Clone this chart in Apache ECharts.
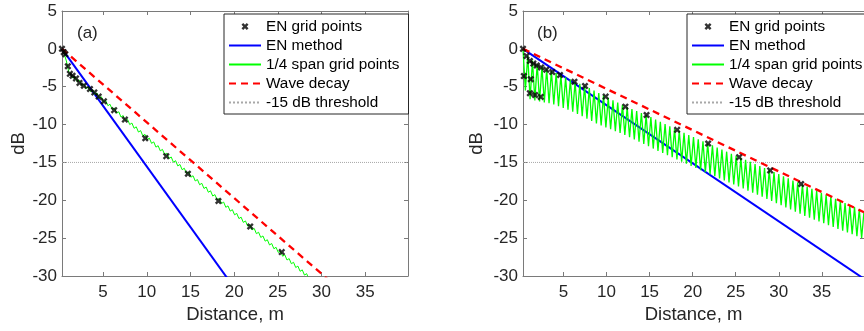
<!DOCTYPE html>
<html>
<head>
<meta charset="utf-8">
<script src="https://cdn.jsdelivr.net/npm/echarts@6/dist/echarts.min.js"></script>
<style>
html, body {margin: 0; padding: 0; background: #fff;}
#main {width: 864px; height: 331px;}
</style>
</head>
<body>
<div id="main"></div>
<script>
const xTicks = [5, 10, 15, 20, 25, 30, 35];
const legendNames = ['EN grid points', 'EN method', '1/4 span grid points', 'Wave decay', '-15 dB threshold'];
const panelTags = ['(a)', '(b)'];
const thresholdDb = -15;

// panel (a)
const enGridAX = [0.3, 0.5, 0.68, 0.97, 1.2, 1.51, 1.9, 2.3, 2.8, 3.5, 4.0, 4.5, 5.1, 6.27, 7.5, 9.83, 12.23, 14.71, 18.2, 21.84, 25.45];
const enGridAY = [0, -0.45, -0.7, -2.3, -3.3, -3.55, -3.9, -4.5, -4.87, -5.3, -5.75, -6.3, -6.93, -8.1, -9.34, -11.8, -14.17, -16.5, -20.1, -23.46, -26.84];
const enMethodAX = [0.3, 39.9];
const enMethodAY = [0, -63.4];
const waveDecayAX = [0.3, 39.9];
const waveDecayAY = [0, -39.6];
const spanAX = [0.3, 0.5, 0.64, 0.8, 0.95, 1.1, 1.2,
  1.3, 1.55, 1.8, 2.05, 2.3, 2.55, 2.8, 3.05, 3.3, 3.55, 3.8,
  4.05, 4.3, 4.55, 4.8, 5.05, 5.3, 5.55, 5.8, 6.05, 6.3, 6.55, 6.8, 7.05, 7.3, 7.55, 7.8, 8.05, 8.3, 8.55, 8.8,
  9.05, 9.3, 9.55, 9.8, 10.05, 10.3, 10.55, 10.8, 11.05, 11.3, 11.55, 11.8, 12.05, 12.3, 12.55, 12.8,
  13.05, 13.3, 13.55, 13.8, 14.05, 14.3, 14.55, 14.8, 15.05, 15.3, 15.55, 15.8, 16.05, 16.3, 16.55, 16.8,
  17.05, 17.3, 17.55, 17.8, 18.05, 18.3, 18.55, 18.8, 19.05, 19.3, 19.55, 19.8, 20.05, 20.3, 20.55, 20.8,
  21.05, 21.3, 21.55, 21.8, 22.05, 22.3, 22.55, 22.8, 23.05, 23.3, 23.55, 23.8, 24.05, 24.3, 24.55, 24.8,
  25.05, 25.3, 25.55, 25.8, 26.05, 26.3, 26.55, 26.8, 27.05, 27.3, 27.55, 27.8, 28.05, 28.3, 28.55, 28.8];
const spanAY = [0, -0.45, -0.66, -1.6, -2.4, -3.1, -3.3,
  -3.18, -3.86, -3.67, -4.35, -4.16, -4.84, -4.65, -5.27, -5.02, -5.64, -5.38,
  -6.02, -5.83, -6.52, -6.33, -7.01, -6.82, -7.51, -7.32, -8.01, -7.82, -8.50, -8.31, -9.00, -8.81, -9.50, -9.31, -10.00, -9.80, -10.49, -10.30,
  -10.99, -10.80, -11.49, -11.30, -11.98, -11.79, -12.48, -12.29, -12.98, -12.79, -13.47, -13.28, -13.97, -13.78, -14.47, -14.28,
  -14.97, -14.77, -15.46, -15.27, -15.96, -15.77, -16.46, -16.27, -16.95, -16.76, -17.45, -17.26, -17.95, -17.76, -18.44, -18.25,
  -18.94, -18.75, -19.44, -19.25, -19.94, -19.74, -20.43, -20.24, -20.93, -20.74, -21.43, -21.24, -21.92, -21.73, -22.42, -22.23,
  -22.92, -22.73, -23.41, -23.22, -23.91, -23.72, -24.41, -24.22, -24.91, -24.71, -25.40, -25.21, -25.90, -25.71, -26.40, -26.21,
  -26.89, -26.70, -27.39, -27.20, -27.89, -27.70, -28.38, -28.19, -28.88, -28.69, -29.38, -29.19, -29.88, -29.69, -30.38, -30.18];

// panel (b)
const enGridBX = [0.3, 0.7, 1.1, 1.5, 1.9, 2.4, 3.0, 3.7, 4.6, 6.28, 7.5, 9.9, 12.19, 14.65, 18.2, 21.8, 25.4, 29.0, 32.6,
  0.4, 1.2, 1.1, 1.7, 2.36];
const enGridBY = [0, -0.95, -1.6, -1.95, -2.2, -2.45, -2.75, -3.05, -3.45, -4.34, -4.9, -6.3, -7.63, -8.73, -10.7, -12.5, -14.3, -16.05, -17.85,
  -3.6, -4.0, -5.85, -6.1, -6.35];
const enMethodBX = [0.3, 39.9];
const enMethodBY = [0, -30.37];
const waveDecayBX = [0.3, 39.9];
const waveDecayBY = [0, -21.58];
const spanBPeakX = [0.3, 0.85, 1.4, 1.95, 2.5, 3.05, 3.6, 4.15, 4.7, 5.25, 5.8, 6.35, 6.9, 7.45, 8.0, 8.55, 9.1, 9.65,
  10.2, 10.75, 11.3, 11.85, 12.4, 12.95, 13.5, 14.05, 14.6, 15.15, 15.7, 16.25, 16.8, 17.35, 17.9, 18.45, 19.0, 19.55,
  20.1, 20.65, 21.2, 21.75, 22.3, 22.85, 23.4, 23.95, 24.5, 25.05, 25.6, 26.15, 26.7, 27.25, 27.8, 28.35, 28.9, 29.45,
  30.0, 30.55, 31.1, 31.65, 32.2, 32.75, 33.3, 33.85, 34.4, 34.95, 35.5, 36.05, 36.6, 37.15, 37.7, 38.25, 38.8, 39.35, 39.9];
const spanBPeakY = [0, -0.89, -1.55, -2.01, -2.35, -2.67, -2.93, -3.19, -3.46, -3.77, -4.07, -4.37, -4.63, -4.88, -5.19, -5.51, -5.83, -6.15,
  -6.47, -6.78, -7.09, -7.40, -7.69, -7.95, -8.21, -8.47, -8.73, -9.02, -9.33, -9.63, -9.93, -10.23, -10.54, -10.83, -11.10, -11.38,
  -11.65, -11.93, -12.20, -12.48, -12.75, -13.03, -13.30, -13.58, -13.85, -14.13, -14.40, -14.66, -14.93, -15.20, -15.47, -15.73, -16.00, -16.28,
  -16.55, -16.83, -17.10, -17.38, -17.65, -17.92, -18.20, -18.47, -18.74, -19.01, -19.28, -19.55, -19.82, -20.09, -20.37, -20.64, -20.91, -21.18, -21.45];
const spanBTroughX = [0.575, 1.125, 1.675, 2.225, 2.775, 3.325, 3.875, 4.425, 4.975, 5.525, 6.075, 6.625, 7.175, 7.725, 8.275, 8.825, 9.375, 9.925,
  10.475, 11.025, 11.575, 12.125, 12.675, 13.225, 13.775, 14.325, 14.875, 15.425, 15.975, 16.525, 17.075, 17.625, 18.175, 18.725, 19.275, 19.825,
  20.375, 20.925, 21.475, 22.025, 22.575, 23.125, 23.675, 24.225, 24.775, 25.325, 25.875, 26.425, 26.975, 27.525, 28.075, 28.625, 29.175, 29.725,
  30.275, 30.825, 31.375, 31.925, 32.475, 33.025, 33.575, 34.125, 34.675, 35.225, 35.775, 36.325, 36.875, 37.425, 37.975, 38.525, 39.075, 39.625];
const spanBTroughY = [-5.5, -6.64, -6.8, -6.95, -7.07, -7.19, -7.33, -7.57, -7.81, -8.05, -8.29, -8.6, -8.91, -9.22, -9.53, -9.84, -10.12, -10.37,
  -10.62, -10.87, -11.12, -11.37, -11.66, -11.96, -12.26, -12.56, -12.86, -13.17, -13.47, -13.76, -14.04, -14.32, -14.6, -14.89, -15.16, -15.45,
  -15.73, -16.01, -16.29, -16.56, -16.83, -17.1, -17.37, -17.64, -17.91, -18.18, -18.45, -18.72, -18.99, -19.26, -19.54, -19.82, -20.1, -20.38,
  -20.66, -20.94, -21.22, -21.5, -21.78, -22.06, -22.31, -22.55, -22.79, -23.04, -23.28, -23.52, -23.77, -24.01, -24.25, -24.49, -24.74, -24.98];

const pairs = (xs, ys) => xs.map((x, i) => [x, ys[i]]).filter(p => p[1] !== undefined);
const zigzag = (px, py, tx, ty) => {
  const out = [];
  px.forEach((x, i) => {
    out.push([x, py[i]]);
    if (i < tx.length) out.push([tx[i], ty[i]]);
  });
  return out;
};

const font = "'Liberation Sans', Arial, Helvetica, sans-serif";
const textColor = '#262626';
const axisColor = '#7a7a7a';
const xMin = 0.3, xMax = 39.9;
const crossPath = 'path://M0,2.4L2.4,0L5,2.6L7.6,0L10,2.4L7.4,5L10,7.6L7.6,10L5,7.4L2.4,10L0,7.6L2.6,5Z';

const panels = [
  {left: 62, legendLeft: 224, tagLeft: 77, nameGap: 33,
    grid: pairs(enGridAX, enGridAY), en: pairs(enMethodAX, enMethodAY),
    wave: pairs(waveDecayAX, waveDecayAY), span: pairs(spanAX, spanAY), spanWidth: 1},
  {left: 523, legendLeft: 687, tagLeft: 537, nameGap: 37,
    grid: pairs(enGridBX, enGridBY), en: pairs(enMethodBX, enMethodBY),
    wave: pairs(waveDecayBX, waveDecayBY),
    span: zigzag(spanBPeakX, spanBPeakY, spanBTroughX, spanBTroughY), spanWidth: 1.3},
];

// line entries in the legend show only their line sample, no dot
const legendData = legendNames.map((n, i) => i === 0 ? {name: n} : {name: n, itemStyle: {opacity: 0}});

const grids = [], xAxes = [], yAxes = [], series = [], legends = [], graphics = [];

panels.forEach((p, k) => {
  grids.push({left: p.left, top: 11, width: 346, height: 265});
  const tick = {show: true, inside: true, length: 4, customValues: xTicks, lineStyle: {color: axisColor}};
  xAxes.push({
    type: 'value', gridIndex: k, min: xMin, max: xMax, position: 'bottom',
    axisLine: {show: true, onZero: false, lineStyle: {color: axisColor}},
    axisTick: tick,
    axisLabel: {customValues: xTicks, color: textColor, fontSize: 17, fontFamily: font, margin: 8},
    splitLine: {show: false},
    name: 'Distance, m', nameLocation: 'middle', nameGap: 29,
    nameTextStyle: {color: textColor, fontSize: 18.5, fontFamily: font}
  });
  xAxes.push({
    type: 'value', gridIndex: k, min: xMin, max: xMax, position: 'top',
    axisLine: {show: true, onZero: false, lineStyle: {color: axisColor}},
    axisTick: tick, axisLabel: {show: false}, splitLine: {show: false}
  });
  const ytick = {show: true, inside: true, length: 4, lineStyle: {color: axisColor}};
  yAxes.push({
    type: 'value', gridIndex: k, min: -30, max: 5, interval: 5, position: 'left',
    axisLine: {show: true, onZero: false, lineStyle: {color: axisColor}},
    axisTick: ytick,
    axisLabel: {color: textColor, fontSize: 17, fontFamily: font, margin: 5},
    splitLine: {show: false},
    name: 'dB', nameLocation: 'middle', nameGap: p.nameGap,
    nameTextStyle: {color: textColor, fontSize: 18.5, fontFamily: font}
  });
  yAxes.push({
    type: 'value', gridIndex: k, min: -30, max: 5, interval: 5, position: 'right',
    axisLine: {show: true, onZero: false, lineStyle: {color: axisColor}},
    axisTick: ytick, axisLabel: {show: false}, splitLine: {show: false}
  });

  const ax = {xAxisIndex: k * 2, yAxisIndex: k * 2};
  series.push({
    ...ax, type: 'scatter', name: legendNames[0], data: p.grid,
    symbol: crossPath, symbolSize: 7, itemStyle: {color: '#000'}, z: 6, silent: true
  });
  series.push({
    ...ax, type: 'line', name: legendNames[1], data: p.en, symbol: 'none',
    lineStyle: {color: '#0000ff', width: 2}, itemStyle: {color: '#0000ff'}, z: 2, silent: true
  });
  series.push({
    ...ax, type: 'line', name: legendNames[2], data: p.span, symbol: 'none',
    lineStyle: {color: '#00ff00', width: p.spanWidth}, itemStyle: {color: '#00ff00'}, z: 3, silent: true
  });
  series.push({
    ...ax, type: 'line', name: legendNames[3], data: p.wave, symbol: 'none',
    lineStyle: {color: '#ff0000', width: 2.3, type: [7, 5]}, itemStyle: {color: '#ff0000'}, z: 4, silent: true
  });
  series.push({
    ...ax, type: 'line', name: legendNames[4], data: [[xMin, thresholdDb], [xMax, thresholdDb]], symbol: 'none',
    lineStyle: {color: '#a8a8a8', width: 1, type: 'dotted'}, itemStyle: {color: '#a8a8a8'}, z: 1, silent: true
  });

  legends.push({
    data: legendData, orient: 'vertical', left: p.legendLeft, top: 14,
    padding: [5, 9, 4, 4], itemWidth: 32, itemHeight: 7, itemGap: 4,
    backgroundColor: '#fff', borderColor: '#262626', borderWidth: 1,
    textStyle: {color: '#000', fontSize: 15.3, fontFamily: font, lineHeight: 14.5},
    selectedMode: false, z: 10
  });
  graphics.push({
    type: 'text', left: p.tagLeft, top: 25, z: 10,
    style: {text: panelTags[k], fill: textColor, font: '17px ' + font}
  });
});

const chart = echarts.init(document.getElementById('main'), null, {renderer: 'canvas'});
chart.setOption({
  animation: false,
  backgroundColor: '#fff',
  grid: grids,
  xAxis: xAxes,
  yAxis: yAxes,
  legend: legends,
  graphic: graphics,
  series: series
});
</script>
</body>
</html>
